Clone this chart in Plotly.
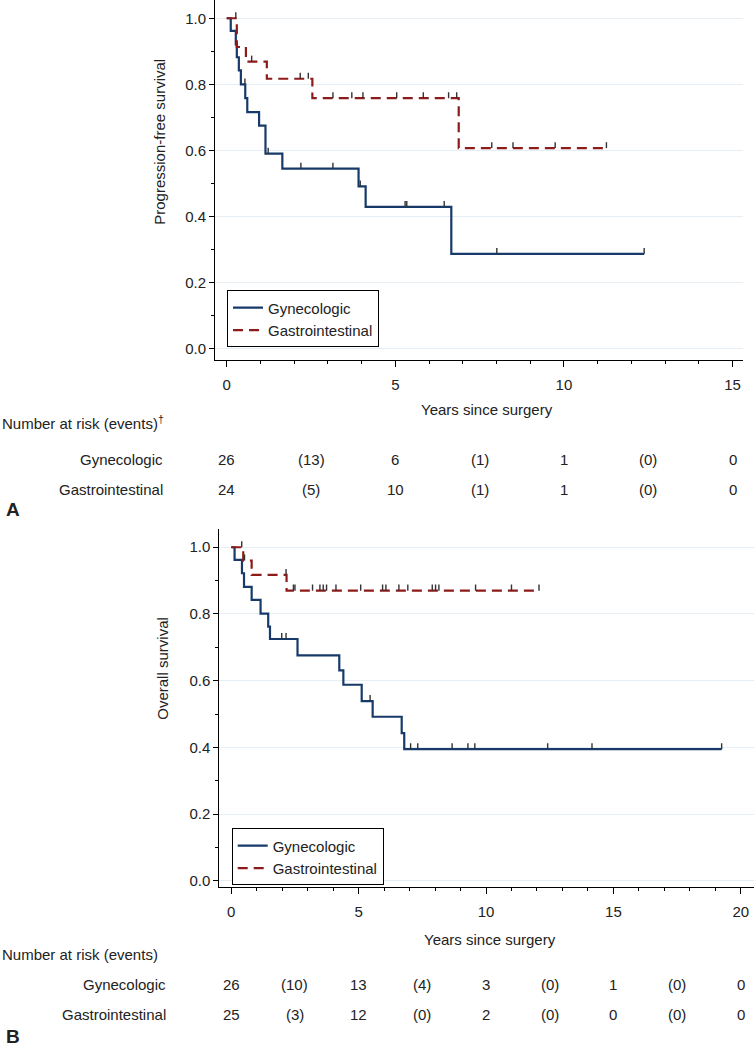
import numpy as np
import plotly.graph_objects as go

W, H = 754, 1050
FONT = "Liberation Sans, Arial, sans-serif"
FS = 15
BLUE = "#173a6a"
RED = "#8e1b1b"
CENS = "#333333"

# ---------------- Data ----------------
groups = ["Gynecologic", "Gastrointestinal"]

# Panel A: progression-free survival
pfs_gyn_times = [0.12, 0.27, 0.30, 0.36, 0.42, 0.55, 0.61, 0.96, 1.15, 1.65, 3.91, 4.12, 6.66]
pfs_gyn_surv = [0.962, 0.921, 0.882, 0.842, 0.800, 0.758, 0.716, 0.675, 0.590, 0.545, 0.491, 0.429, 0.287]
pfs_gyn_cens = [0.54, 1.23, 2.20, 3.15, 3.96, 5.29, 5.34, 6.45, 8.01, 12.38]
pfs_gi_times = [0.30, 0.57, 1.19, 2.54, 6.88]
pfs_gi_surv = [0.913, 0.869, 0.817, 0.758, 0.607]
pfs_gi_cens = [0.27, 0.74, 2.18, 2.42, 3.15, 3.71, 4.04, 5.04, 5.83, 6.58, 6.82, 7.86, 8.49, 9.74, 11.26]

# Panel B: overall survival
os_gyn_times = [0.13, 0.42, 0.50, 0.80, 1.15, 1.45, 1.52, 2.60, 4.24, 4.40, 5.12, 5.55, 6.69, 6.79]
os_gyn_surv = [0.962, 0.922, 0.881, 0.842, 0.801, 0.762, 0.725, 0.676, 0.631, 0.588, 0.539, 0.492, 0.443, 0.395]
os_gyn_cens = [1.98, 2.15, 5.45, 7.04, 7.32, 8.67, 9.29, 9.56, 12.42, 14.16, 19.25]
os_gi_times = [0.47, 0.80, 2.17]
os_gi_surv = [0.960, 0.917, 0.870]
os_gi_cens = [0.41, 0.52, 2.15, 2.44, 2.50, 3.19, 3.48, 3.61, 3.74, 4.11, 5.08, 5.94, 6.07,
              6.58, 6.93, 7.89, 8.02, 8.15, 9.59, 11.0, 12.08]

# Risk tables
risk_a_x = [0, 2.5, 5, 7.5, 10, 12.5, 15]
risk_a_gyn = ["26", "(13)", "6", "(1)", "1", "(0)", "0"]
risk_a_gi = ["24", "(5)", "10", "(1)", "1", "(0)", "0"]
risk_b_x = [0, 2.5, 5, 7.5, 10, 12.5, 15, 17.5, 20]
risk_b_gyn = ["26", "(10)", "13", "(4)", "3", "(0)", "1", "(0)", "0"]
risk_b_gi = ["25", "(3)", "12", "(0)", "2", "(0)", "0", "(0)", "0"]

y_ticks = [0.0, 0.2, 0.4, 0.6, 0.8, 1.0]
x_ticks_a = [0, 5, 10, 15]
x_ticks_b = [0, 5, 10, 15, 20]


def px(v):
    return v / W


def py(v):
    return 1 - v / H


def step_xy(times, surv, cens):
    end = max(max(times), max(cens))
    x = [0.0] + list(times) + [end]
    y = [1.0] + list(surv) + [surv[-1]]
    return x, y


def cens_xy(times, surv, cens, h):
    t = np.asarray(times)
    s = np.asarray(surv)
    xs, ys = [], []
    for c in cens:
        i = np.searchsorted(t, c, side="right") - 1
        lvl = 1.0 if i < 0 else float(s[i])
        xs += [c, c, None]
        ys += [lvl, lvl + h, None]
    return xs, ys


fig = go.Figure()

panels = [
    ("x", "y", "legend", pfs_gyn_times, pfs_gyn_surv, pfs_gyn_cens, pfs_gi_times, pfs_gi_surv, pfs_gi_cens),
    ("x2", "y2", "legend2", os_gyn_times, os_gyn_surv, os_gyn_cens, os_gi_times, os_gi_surv, os_gi_cens),
]
for xa, ya, lg, gt, gs, gc, rt, rs, rc in panels:
    x, y = step_xy(gt, gs, gc)
    fig.add_trace(go.Scatter(x=x, y=y, mode="lines", line=dict(color=BLUE, width=2.2, shape="hv"),
                             name=groups[0], xaxis=xa, yaxis=ya, legend=lg))
    x, y = step_xy(rt, rs, rc)
    fig.add_trace(go.Scatter(x=x, y=y, mode="lines",
                             line=dict(color=RED, width=2.2, shape="hv", dash="10px,6px"),
                             name=groups[1], xaxis=xa, yaxis=ya, legend=lg))
    for t, s, c in ((gt, gs, gc), (rt, rs, rc)):
        cx, cy = cens_xy(t, s, c, 0.018)
        fig.add_trace(go.Scatter(x=cx, y=cy, mode="lines", line=dict(color=CENS, width=1.4),
                                 showlegend=False, hoverinfo="skip", xaxis=xa, yaxis=ya))

axis_common = dict(showline=True, linecolor="black", linewidth=1, ticks="outside", tickcolor="black",
                   tickfont=dict(family=FONT, size=FS, color="#222"), zeroline=False, mirror=False)
legend_common = dict(xanchor="left", yanchor="top", bgcolor="white", bordercolor="black", borderwidth=1,
                     itemwidth=30, font=dict(family=FONT, size=FS, color="#222"))

fig.update_layout(
    width=W, height=H, margin=dict(l=0, r=0, t=0, b=0),
    paper_bgcolor="white", plot_bgcolor="white",
    font=dict(family=FONT, size=FS, color="#222"),
    xaxis=dict(domain=[px(215), px(743)], range=[-0.347, 15.31], anchor="y",
               tickmode="array", tickvals=x_ticks_a, ticklen=6, showgrid=False,
               ticklabelstandoff=5,
               minor=dict(tick0=0, dtick=1, ticks="outside", ticklen=3, tickcolor="black"),
               **axis_common),
    yaxis=dict(domain=[py(360.7), 1.0], range=[-0.0344, 1.0553], anchor="x",
               tickmode="array", tickvals=y_ticks, tickformat=".1f", ticklen=5,
               showgrid=True, gridcolor="#e6eef5", gridwidth=1,
               minor=dict(tick0=0, dtick=0.1, ticks="outside", ticklen=3, tickcolor="black", showgrid=False),
               **axis_common),
    xaxis2=dict(domain=[px(219.3), 1.0], range=[-0.47, 20.52], anchor="y2",
                tickmode="array", tickvals=x_ticks_b, ticklen=6, showgrid=False,
                ticklabelstandoff=5,
                minor=dict(tick0=0, dtick=1, ticks="outside", ticklen=3, tickcolor="black"),
                **axis_common),
    yaxis2=dict(domain=[py(889), py(530)], range=[-0.019, 1.0547], anchor="x2",
                tickmode="array", tickvals=y_ticks, tickformat=".1f", ticklen=5,
                showgrid=True, gridcolor="#e6eef5", gridwidth=1,
                minor=dict(tick0=0, dtick=0.1, ticks="outside", ticklen=3, tickcolor="black", showgrid=False),
                **axis_common),
    legend=dict(x=px(227), y=py(291), **legend_common),
    legend2=dict(x=px(231.7), y=py(830), **legend_common),
    showlegend=True,
)

ann = []


def text(x, y, s, xanchor="center", xref="paper", size=FS, angle=0, bold=False):
    ann.append(dict(x=x, y=y, xref=xref, yref="paper", text=("<b>%s</b>" % s) if bold else s,
                    showarrow=False, xanchor=xanchor, yanchor="middle", textangle=angle,
                    font=dict(family=FONT, size=size, color="#222")))


# axis titles
text(px(160), py(142), "Progression-free survival", angle=-90)
text(px(487), py(410), "Years since surgery")
text(px(163), py(670), "Overall survival", angle=-90)
text(px(490), py(941), "Years since surgery")

# risk table A
text(0, py(423), "Number at risk (events)<sup>†</sup>", xanchor="left")
text(px(165), py(460), groups[0], xanchor="right")
text(px(165), py(490), groups[1], xanchor="right")
for xv, a, b in zip(risk_a_x, risk_a_gyn, risk_a_gi):
    text(xv, py(460), a, xref="x")
    text(xv, py(490), b, xref="x")
text(px(4), py(510), "A", xanchor="left", size=19, bold=True)

# risk table B
text(0, py(956), "Number at risk (events)", xanchor="left")
text(px(168), py(986), groups[0], xanchor="right")
text(px(168), py(1016), groups[1], xanchor="right")
for xv, a, b in zip(risk_b_x, risk_b_gyn, risk_b_gi):
    text(xv, py(986), a, xref="x2")
    text(xv, py(1016), b, xref="x2")
text(px(4), py(1038), "B", xanchor="left", size=19, bold=True)

fig.update_layout(annotations=ann)
fig.write_html("out.html", config={"displayModeBar": False},
               post_script="document.body.style.margin='0px';document.body.style.padding='0px';"
                           "document.body.style.overflow='hidden';")
